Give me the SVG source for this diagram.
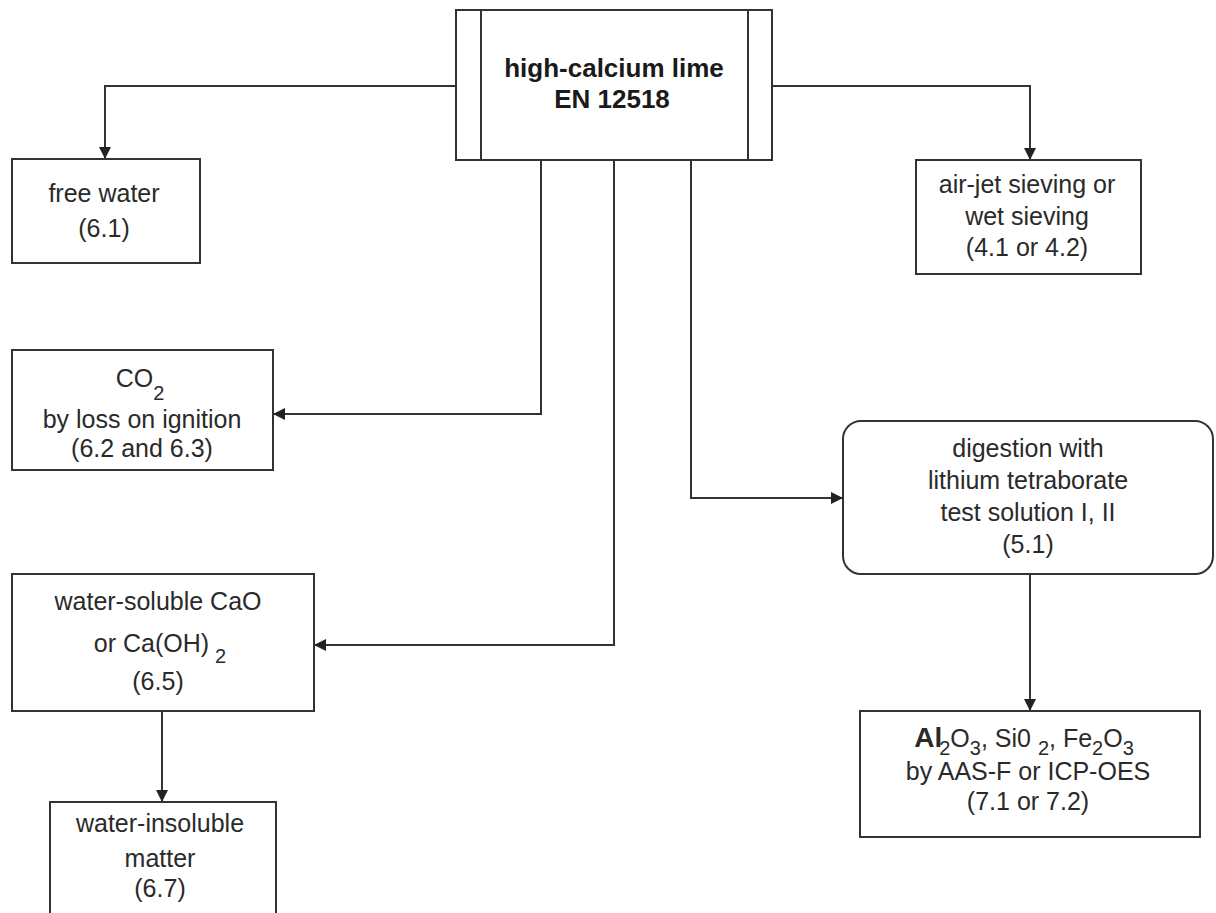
<svg xmlns="http://www.w3.org/2000/svg" width="1216" height="913" viewBox="0 0 1216 913">
<style>
.box{fill:#fff;stroke:#333;stroke-width:2}
.ln{fill:none;stroke:#333;stroke-width:2}
text{font-family:"Liberation Sans",Arial,sans-serif;font-size:25px;fill:#2a2a2a;text-anchor:middle}
.t{font-weight:bold;font-size:26px;fill:#1a1a1a}
.s{font-size:20px}
</style>
<defs>
<marker id="arr" markerUnits="userSpaceOnUse" markerWidth="12" markerHeight="12" refX="11" refY="6" orient="auto">
<path d="M0,0 L12,6 L0,12 z" fill="#222"/>
</marker>
</defs>
<rect width="1216" height="913" fill="#fff"/>
<g id="connectors">
<path class="ln" d="M456,86 H105 V158" marker-end="url(#arr)"/>
<path class="ln" d="M772,86 H1030 V159" marker-end="url(#arr)"/>
<path class="ln" d="M541,160 V414 H274" marker-end="url(#arr)"/>
<path class="ln" d="M614,160 V645 H315" marker-end="url(#arr)"/>
<path class="ln" d="M691,160 V498 H842" marker-end="url(#arr)"/>
<path class="ln" d="M1030,574 V710" marker-end="url(#arr)"/>
<path class="ln" d="M162,711 V801" marker-end="url(#arr)"/>
</g>
<g id="main">
<rect class="box" x="456" y="10" width="316" height="150"/>
<line class="ln" x1="481" y1="10" x2="481" y2="160"/>
<line class="ln" x1="748" y1="10" x2="748" y2="160"/>
<text class="t" x="614" y="77">high-calcium lime</text>
<text class="t" x="612" y="108">EN 12518</text>
</g>
<g id="free-water">
<rect class="box" x="12" y="159" width="188" height="104"/>
<text x="104" y="202">free water</text>
<text x="104" y="237">(6.1)</text>
</g>
<g id="sieving">
<rect class="box" x="916" y="160" width="225" height="114"/>
<text x="1027" y="193">air-jet sieving or</text>
<text x="1027" y="225">wet sieving</text>
<text x="1027" y="256">(4.1 or 4.2)</text>
</g>
<g id="co2">
<rect class="box" x="12" y="350" width="261" height="120"/>
<text x="140" y="387">CO<tspan class="s" dy="13">2</tspan></text>
<text x="142" y="428">by loss on ignition</text>
<text x="142" y="457">(6.2 and 6.3)</text>
</g>
<g id="digestion">
<rect class="box" x="843" y="421" width="370" height="153" rx="18" ry="18"/>
<text x="1028" y="457">digestion with</text>
<text x="1028" y="489">lithium tetraborate</text>
<text x="1028" y="521">test solution I, II</text>
<text x="1028" y="553">(5.1)</text>
</g>
<g id="water-soluble">
<rect class="box" x="12" y="574" width="302" height="137"/>
<text x="158" y="610">water-soluble CaO</text>
<text x="160" y="652">or Ca(OH)<tspan class="s" dx="6" dy="11">2</tspan></text>
<text x="158" y="690">(6.5)</text>
</g>
<g id="water-insoluble">
<rect class="box" x="50" y="802" width="226" height="130"/>
<text x="160" y="832">water-insoluble</text>
<text x="160" y="867">matter</text>
<text x="160" y="897">(6.7)</text>
</g>
<g id="oxides">
<rect class="box" x="860" y="711" width="340" height="126"/>
<text x="1024" y="747"><tspan font-weight="bold" font-size="28">Al</tspan><tspan class="s" dx="-3" dy="8">2</tspan><tspan dy="-8">O</tspan><tspan class="s" dy="8">3</tspan><tspan dy="-8">, Si0 </tspan><tspan class="s" dy="8">2</tspan><tspan dy="-8">, Fe</tspan><tspan class="s" dy="8">2</tspan><tspan dy="-8">O</tspan><tspan class="s" dy="8">3</tspan></text>
<text x="1028" y="780">by AAS-F or ICP-OES</text>
<text x="1028" y="810">(7.1 or 7.2)</text>
</g>
</svg>
